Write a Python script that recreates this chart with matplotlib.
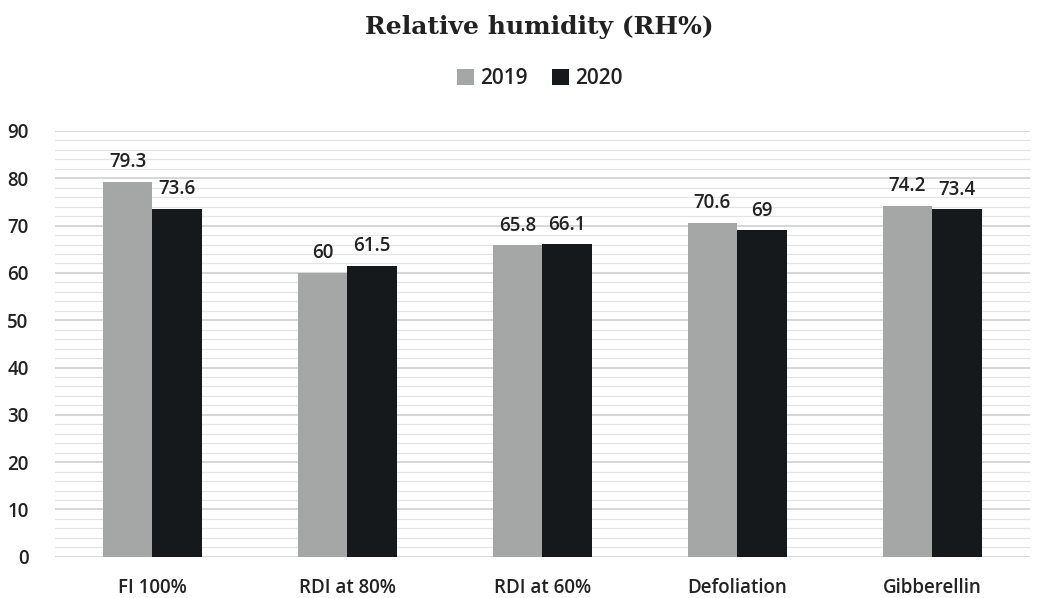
import matplotlib.pyplot as plt
import numpy as np
from matplotlib.ticker import MultipleLocator

categories = ["FI 100%", "RDI at 80%", "RDI at 60%", "Defoliation", "Gibberellin"]
rh_2019 = [79.3, 60, 65.8, 70.6, 74.2]
rh_2020 = [73.6, 61.5, 66.1, 69, 73.4]
labels_2019 = ["79.3", "60", "65.8", "70.6", "74.2"]
labels_2020 = ["73.6", "61.5", "66.1", "69", "73.4"]

plt.rcParams['font.family'] = ['Open Sans', 'DejaVu Sans']

fig = plt.figure(figsize=(10.38, 5.98), dpi=100)
ax = fig.add_axes([0.053, 0.069, 0.939, 0.712])

x = np.arange(len(categories))
w = 0.255
b1 = ax.bar(x - w/2, rh_2019, w, color="#a5a7a7", label="2019", zorder=3)
b2 = ax.bar(x + w/2, rh_2020, w, color="#16191b", label="2020", zorder=3)

for xi, v, t in zip(x, rh_2019, labels_2019):
    ax.text(xi - w/2, v + 2.0, t, ha='center', va='bottom', fontsize=13.5,
            fontweight='semibold', color='#222222')
for xi, v, t in zip(x, rh_2020, labels_2020):
    ax.text(xi + w/2, v + 2.0, t, ha='center', va='bottom', fontsize=13.5,
            fontweight='semibold', color='#222222')

ax.set_xlim(-0.5, len(categories) - 0.5)
ax.set_ylim(0, 90)
ax.yaxis.set_major_locator(MultipleLocator(10))
ax.yaxis.set_minor_locator(MultipleLocator(2))
ax.grid(axis='y', which='major', color='#cfcfcf', linewidth=1.2, zorder=0)
ax.grid(axis='y', which='minor', color='#e4e4e4', linewidth=0.9, zorder=0)
ax.set_xticks(x)
ax.set_xticklabels(categories)
ax.tick_params(axis='both', which='both', length=0, labelsize=13.5, colors='#222222')
ax.tick_params(axis='x', pad=15)
ax.tick_params(axis='y', pad=19)
for lab in ax.get_xticklabels() + ax.get_yticklabels():
    lab.set_fontweight('semibold')
for s in ax.spines.values():
    s.set_visible(False)

fig.text(0.52, 0.955, "Relative humidity (RH%)", ha='center', va='center',
         fontsize=18, fontweight='bold', family='DejaVu Serif', color='#222222')
leg = fig.legend(handles=[b1, b2], loc='center', bbox_to_anchor=(0.52, 0.868), ncol=2,
                 frameon=False, fontsize=15, handlelength=0.8, handleheight=0.8,
                 handletextpad=0.3, columnspacing=1.2)
for t in leg.get_texts():
    t.set_fontweight('semibold')
    t.set_color('#222222')

fig.savefig("out.png", dpi=100)
